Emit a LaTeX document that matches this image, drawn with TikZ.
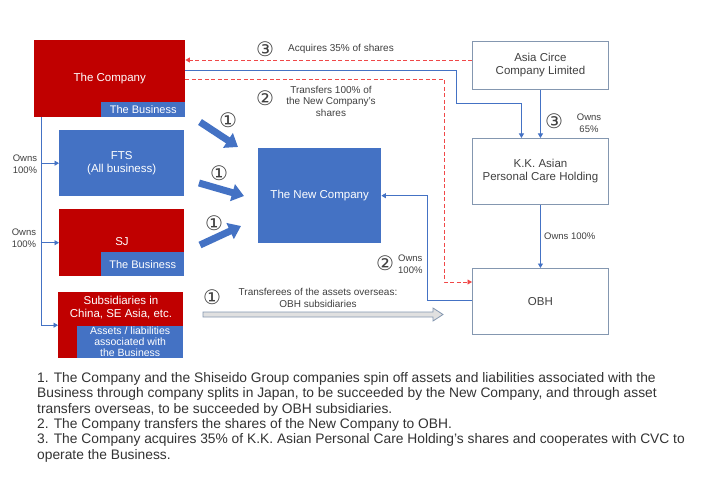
\documentclass[tikz,border=0pt]{standalone}
\usepackage{fontspec}
\setmainfont{Liberation Sans}
\newfontfamily\circfont{DejaVu Sans}
\usepackage{tikz}
\usepackage{xcolor}
\usetikzlibrary{arrows.meta,calc}
\definecolor{cored}{HTML}{C00000}
\definecolor{coblue}{HTML}{4472C4}
\definecolor{frame}{HTML}{8497B0}
\definecolor{ink}{HTML}{404040}
\definecolor{dashred}{HTML}{F04848}

\begin{document}
\begin{tikzpicture}[x=1pt,y=-1pt,
                redbox/.style={fill=cored, text=white, inner sep=0pt, align=center, font=\fontsize{11.5}{13}\selectfont},
                bluebox/.style={fill=coblue, text=white, inner sep=0pt, align=center, font=\fontsize{11.5}{13}\selectfont},
                subbox/.style={fill=coblue, text=white, inner sep=0pt, align=center, font=\fontsize{11}{11}\selectfont},
                whitebox/.style={draw=frame, line width=0.9pt, fill=white, text=ink, inner sep=0pt, align=center, font=\fontsize{11.5}{13}\selectfont},
                lbl/.style={text=ink, inner sep=0pt, align=center, font=\fontsize{10}{11.5}\selectfont},
                ownlbl/.style={lbl, font=\fontsize{9.5}{12}\selectfont},
                num/.style={text=ink, inner sep=0pt, font=\circfont\fontsize{20}{20}\selectfont},
                conn/.style={draw=coblue, line width=0.8pt, -{Triangle[width=5pt,length=4.5pt]}},
                redconn/.style={draw=dashred, line width=0.9pt, dash pattern=on 4pt off 2.5pt, -{Triangle[width=5pt,length=4.5pt]}},
                blockarrow/.style={draw=coblue, line width=7pt, -{Triangle[width=17pt,length=12pt]}}]
                \fill[white] (0,0) rectangle (710,500);
                \useasboundingbox (0,0) rectangle (710,500);
                % left column
                \node[redbox, anchor=north west, minimum width=151, minimum height=77] (company) at (34,40) {The Company};
                \node[subbox, anchor=south east, minimum width=84, minimum height=15] (cobiz) at (company.south east) {The Business};
                \node[bluebox, anchor=north west, minimum width=125, minimum height=66] (fts) at (59,130) {FTS\\(All business)};
                \node[redbox, anchor=north west, minimum width=125, minimum height=67] (sj) at (59,209) {};
                \node[redbox, fill=none] (sjname) at (122,242) {SJ};
                \node[subbox, anchor=south east, minimum width=83, minimum height=24] (sjbiz) at (sj.south east) {The Business};
                \node[redbox, anchor=north west, minimum width=125, minimum height=66] (subs) at (58,292) {};
                \node[redbox, fill=none] (subsname) at (121,308) {Subsidiaries in\\China, SE Asia, etc.};
                \node[subbox, anchor=south east, minimum width=106, minimum height=32, font=\fontsize{10.5}{11}\selectfont] (subsbiz) at (subs.south east) {Assets / liabilities\\associated with\\the Business};
                % centre and right
                \node[bluebox, anchor=north west, minimum width=123, minimum height=95] (newco) at (258,148) {The New Company};
                \node[whitebox, anchor=north west, minimum width=136, minimum height=48] (asia) at (472,41) {Asia Circe\\Company Limited};
                \node[whitebox, anchor=north west, minimum width=136, minimum height=66] (kk) at (472,138) {K.K. Asian\\Personal Care Holding};
                \node[whitebox, anchor=north west, minimum width=136, minimum height=66] (obh) at (472,268) {OBH};
                % ownership lines
                \coordinate (trunk) at (41,117);
                \draw[conn] (trunk) |- (fts.west);
                \draw[conn] (trunk) |- (sj.west);
                \draw[conn] (trunk) |- (subs.west);
                \node[ownlbl] (own1) at (25,164) {Owns\\100\%};
                \node[ownlbl] (own2) at (24,238) {Owns\\100\%};
                \coordinate (acq) at ($(company.north east)+(0,20)$);
                \draw[redconn] (acq -| asia.west) -- (acq);
                \draw[conn] ($(company.north east)+(0,30)$) -| (456,103) -| ($(kk.north)+(-19,0)$);
                \draw[redconn] ($(company.north east)+(0,39)$) -| ($(obh.north west)+(-28,14)$) -- ($(obh.north west)+(0,14)$);
                \draw[conn] ($(obh.north west)+(0,32)$) -| ($(newco.east)+(46,0)$) -- (newco.east);
                \draw[conn] (asia.south) -- (kk.north);
                \draw[conn] (kk.south) -- (obh.north);
                % labels
                \node[num] (n3a) at (265,49) {③};
                \node[lbl, anchor=west] (acqlbl) at (288,49) {Acquires 35\% of shares};
                \node[num] (n2a) at (265,98) {②};
                \node[lbl] (trflbl) at (331,101) {Transfers 100\% of\\the New Company’s\\shares};
                \node[num] (n3b) at (554,121) {③};
                \node[ownlbl] (own65) at (589,123) {Owns\\65\%};
                \node[lbl, anchor=west, font=\fontsize{9.5}{11}\selectfont] (own100) at (544,236) {Owns 100\%};
                \node[num] (n2b) at (385,263) {②};
                \node[ownlbl, anchor=west] (own100b) at (398,264) {Owns\\100\%};
                % spin-off arrows
                \draw[blockarrow] (200,122) -- (238,147);
                \draw[blockarrow] (199,183) -- (244,196);
                \draw[blockarrow] (200,245) -- (241,226);
                \node[num] (n1a) at (228,120) {①};
                \node[num] (n1b) at (219,173) {①};
                \node[num] (n1c) at (214,223) {①};
                \filldraw[draw=frame, fill=black!12, line width=0.8pt] (203,312) -- (433,312) -- (433,308) -- (443,314.5) -- (433,321) -- (433,317) -- (203,317) -- cycle;
                \node[num] (n1d) at (212,297) {①};
                \node[lbl] (ovslbl) at (318,298) {Transferees of the assets overseas:\\OBH subsidiaries};
                % notes
                \node[anchor=north west, align=left, inner sep=0pt, text=black!80, font=\fontsize{13.8}{15.4}\selectfont] (notes) at (37,372) {1. The Company and the Shiseido Group companies spin off assets and liabilities associated with the\\Business through company splits in Japan, to be succeeded by the New Company, and through asset\\transfers overseas, to be succeeded by OBH subsidiaries.\\2. The Company transfers the shares of the New Company to OBH.\\3. The Company acquires 35\% of K.K. Asian Personal Care Holding’s shares and cooperates with CVC to\\operate the Business.};
            \end{tikzpicture}
\end{document}
